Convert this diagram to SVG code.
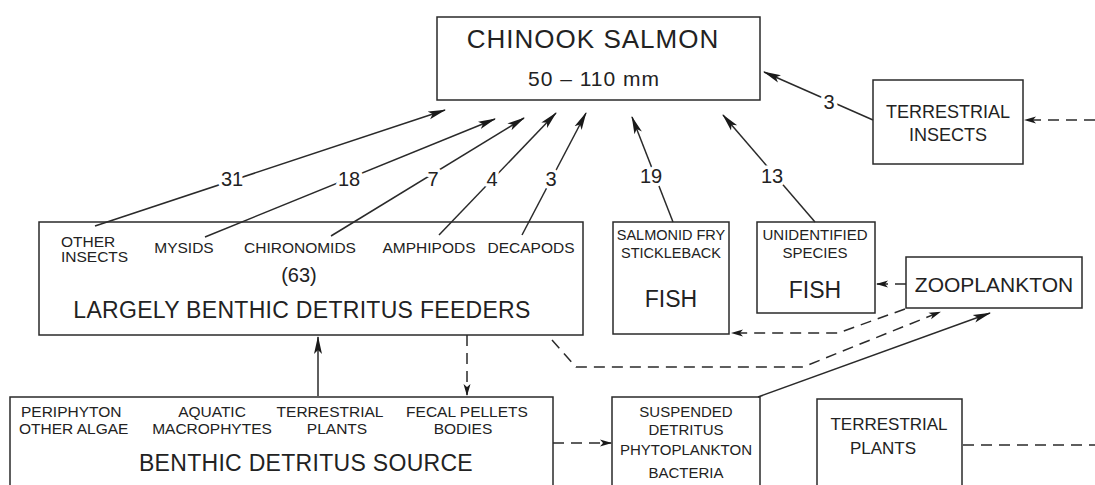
<svg xmlns="http://www.w3.org/2000/svg" width="1095" height="485" viewBox="0 0 1095 485">
<style>
.bg{fill:#ffffff}
.box{fill:#ffffff;stroke:#2a2a2a;stroke-width:1.5}
.t{font-family:"Liberation Sans",Arial,sans-serif;fill:#222222}
.s{font-size:15.5px}
.xs{font-size:14.5px}
.m{font-size:18px}
.l{font-size:23px}
.mid{text-anchor:middle}
.num{font-family:"Liberation Sans",Arial,sans-serif;font-size:20px;fill:#222222;text-anchor:middle;stroke:#ffffff;stroke-width:7px;paint-order:stroke;stroke-linejoin:round}
.ln{fill:none;stroke:#2a2a2a;stroke-width:1.5}
.dl{fill:none;stroke:#2a2a2a;stroke-width:1.5;stroke-dasharray:11 7}
</style>
<defs>
<marker id="ah" viewBox="0 0 18 10" refX="17" refY="5" markerWidth="18" markerHeight="10" markerUnits="userSpaceOnUse" orient="auto">
<path d="M0,1 L18,5 L0,9 L4,5 z" fill="#1a1a1a"/>
</marker>
<marker id="ahs" viewBox="0 0 12 8" refX="11" refY="4" markerWidth="12" markerHeight="8" markerUnits="userSpaceOnUse" orient="auto">
<path d="M0,0.5 L12,4 L0,7.5 L3,4 z" fill="#1a1a1a"/>
</marker>
</defs>
<rect class="bg" x="0" y="0" width="1095" height="485"/>

<g id="chinook">
<rect class="box" x="437" y="17" width="323" height="83"/>
<text class="t mid" x="593" y="48" font-size="26" letter-spacing="1">CHINOOK SALMON</text>
<text class="t mid" x="594" y="86" font-size="21" letter-spacing="1">50 – 110 mm</text>
</g>

<g id="terrestrial-insects">
<rect class="box" x="873" y="80" width="150" height="84"/>
<text class="t m mid" x="948" y="118">TERRESTRIAL</text>
<text class="t m mid" x="948" y="141">INSECTS</text>
</g>

<g id="feeders">
<rect class="box" x="39" y="222" width="544" height="113"/>
<text class="t s" x="61" y="247">OTHER</text>
<text class="t s" x="61" y="262">INSECTS</text>
<text class="t s mid" x="184" y="253">MYSIDS</text>
<text class="t s mid" x="300" y="253">CHIRONOMIDS</text>
<text class="t s mid" x="429" y="253">AMPHIPODS</text>
<text class="t s mid" x="531" y="253">DECAPODS</text>
<text class="t mid" x="299" y="282" font-size="20">(63)</text>
<text class="t l mid" x="302" y="318" letter-spacing="0.3">LARGELY BENTHIC DETRITUS FEEDERS</text>
</g>

<g id="fish-salmonid">
<rect class="box" x="613" y="222" width="116" height="112"/>
<text class="t xs mid" x="671" y="240">SALMONID FRY</text>
<text class="t xs mid" x="671" y="258">STICKLEBACK</text>
<text class="t mid" x="671" y="307" font-size="23">FISH</text>
</g>

<g id="fish-unidentified">
<rect class="box" x="757" y="222" width="118" height="91"/>
<text class="t mid" x="815" y="240" font-size="15">UNIDENTIFIED</text>
<text class="t mid" x="815" y="258" font-size="15">SPECIES</text>
<text class="t mid" x="815" y="298" font-size="23">FISH</text>
</g>

<g id="zooplankton">
<rect class="box" x="906" y="257" width="176" height="51"/>
<text class="t mid" x="994" y="292" font-size="21">ZOOPLANKTON</text>
</g>

<g id="benthic-source">
<rect class="box" x="10" y="397" width="543" height="95"/>
<text class="t s" x="21" y="417">PERIPHYTON</text>
<text class="t s" x="19" y="434">OTHER ALGAE</text>
<text class="t s mid" x="212" y="417">AQUATIC</text>
<text class="t s mid" x="212" y="434">MACROPHYTES</text>
<text class="t s mid" x="330" y="417">TERRESTRIAL</text>
<text class="t s mid" x="337" y="434">PLANTS</text>
<text class="t s mid" x="467" y="417">FECAL PELLETS</text>
<text class="t s mid" x="463" y="434">BODIES</text>
<text class="t l mid" x="306" y="471" letter-spacing="0.3">BENTHIC DETRITUS SOURCE</text>
</g>

<g id="suspended">
<rect class="box" x="612" y="397" width="148" height="95"/>
<text class="t mid" x="686" y="417" font-size="15">SUSPENDED</text>
<text class="t mid" x="686" y="435" font-size="15">DETRITUS</text>
<text class="t mid" x="686" y="455" font-size="15">PHYTOPLANKTON</text>
<text class="t mid" x="686" y="478" font-size="15">BACTERIA</text>
</g>

<g id="terrestrial-plants">
<rect class="box" x="817" y="399" width="145" height="93"/>
<text class="t mid" x="889" y="430" font-size="17">TERRESTRIAL</text>
<text class="t mid" x="883" y="454" font-size="17">PLANTS</text>
</g>

<g id="connectors">
<path class="ln" d="M95,226 L445,110" marker-end="url(#ah)"/>
<path class="ln" d="M205,237 L495,119" marker-end="url(#ah)"/>
<path class="ln" d="M331,236 L524,118" marker-end="url(#ah)"/>
<path class="ln" d="M439,235 L556,113" marker-end="url(#ah)"/>
<path class="ln" d="M522,235 L586,113" marker-end="url(#ah)"/>
<path class="ln" d="M673,222 L632,117" marker-end="url(#ah)"/>
<path class="ln" d="M815,222 L723,115" marker-end="url(#ah)"/>
<path class="ln" d="M873,120 L764,72" marker-end="url(#ah)"/>
<path class="dl" d="M1095,120 L1025,120" marker-end="url(#ahs)"/>
<path class="dl" d="M906,284 L877,284" marker-end="url(#ahs)"/>
<path class="dl" d="M905,309 L838,333 L732,333" marker-end="url(#ahs)"/>
<path class="dl" d="M552,340 L576,367 L803,367 L940,312" marker-end="url(#ahs)"/>
<path class="ln" d="M758,397 L990,313" marker-end="url(#ah)"/>
<path class="ln" d="M318,396 L318,337" marker-end="url(#ah)"/>
<path class="dl" d="M467,335 L467,395" marker-end="url(#ahs)"/>
<path class="dl" d="M553,443 L611,443" marker-end="url(#ahs)"/>
<path class="dl" d="M963,445 L1095,445"/>
<text class="num" x="232" y="186">31</text>
<text class="num" x="349" y="186">18</text>
<text class="num" x="433" y="186">7</text>
<text class="num" x="492" y="186">4</text>
<text class="num" x="551" y="186">3</text>
<text class="num" x="651" y="183">19</text>
<text class="num" x="772" y="183">13</text>
<text class="num" x="829" y="109">3</text>
</g>
</svg>
